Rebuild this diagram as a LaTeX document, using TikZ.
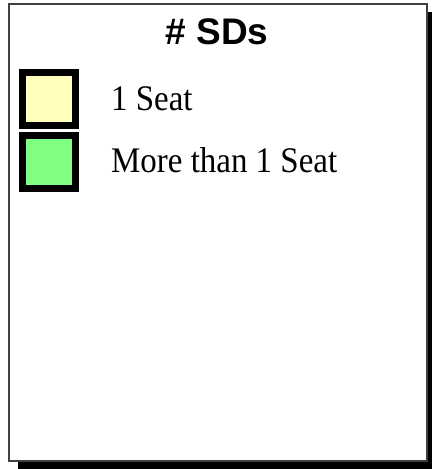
\documentclass[tikz,border=0pt]{standalone}
\usepackage{fontspec}
\setmainfont{Liberation Serif}
\newfontfamily\titlefont{Liberation Sans}
\newfontfamily\keyfont[FakeStretch=0.915]{Liberation Serif}
\usetikzlibrary{positioning}

\definecolor{seatone}{RGB}{255,255,187}
\definecolor{seatmore}{RGB}{128,255,128}

\tikzset{
  keybox/.style={draw=black, line width=7pt, minimum size=53pt, inner sep=0pt},
  keytext/.style={anchor=base west, inner sep=0pt, font=\keyfont\fontsize{36}{40}\selectfont}
}

\begin{document}
\begin{tikzpicture}[x=1pt, y=-1pt]
        \useasboundingbox (0,0) rectangle (432,469);

        % Ombre et cadre
        \fill[black] (18,12) rectangle (432,469);
        \draw[fill=white, draw=black!75, line width=1.5pt] (9,4) rectangle (427,461);

        % Titre
        \node[anchor=base, inner sep=0pt, font=\titlefont\bfseries\fontsize{37}{40}\selectfont] (title) at (217,44) {\# SDs};

        % Legende
        \node[keybox, fill=seatone] (one) at (49,98.5) {};
        \node[keybox, fill=seatmore] (more) at (49,161.5) {};

        \node[keytext] (onetext) at (111,110) {1 Seat};
        \node[keytext] (moretext) at (111,172) {More than 1 Seat};
\end{tikzpicture}
\end{document}
